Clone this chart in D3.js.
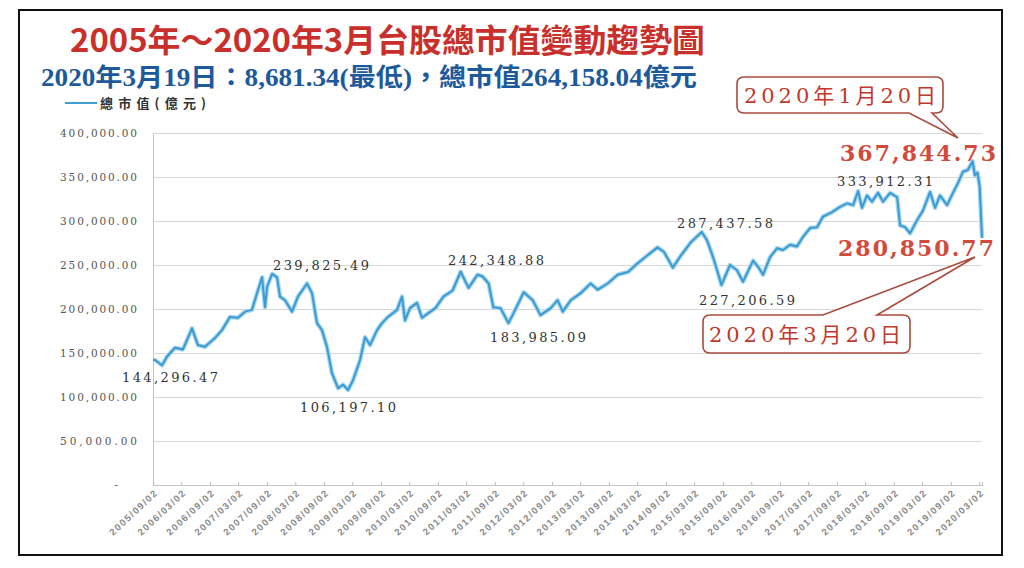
<!DOCTYPE html>
<html lang="zh-Hant">
<head>
<meta charset="UTF-8">
<title>台股總市值變動趨勢圖</title>
<script src="https://d3js.org/d3.v7.min.js"></script>
<style>
  body { margin: 0; background: #fff; }
  svg { display: block; }
</style>
</head>
<body>
<script>
// 總市值(億元)
const dates = [
  "2005-09-02","2005-09-15","2005-10-30","2005-12-01","2006-01-21","2006-03-13","2006-05-10","2006-06-17",
  "2006-08-01","2006-10-04","2006-11-18","2007-01-08","2007-03-01","2007-04-15","2007-05-29","2007-07-01",
  "2007-08-02","2007-08-21","2007-09-03","2007-10-05","2007-11-06","2007-11-25","2007-12-27","2008-02-10",
  "2008-03-19","2008-05-16","2008-06-17","2008-07-19","2008-08-20","2008-09-21","2008-10-23","2008-12-01",
  "2009-01-02","2009-02-03","2009-03-07","2009-04-21","2009-05-23","2009-06-24","2009-08-08","2009-09-09",
  "2009-10-17","2009-12-14","2010-01-15","2010-02-03","2010-03-07","2010-04-21","2010-05-23","2010-06-30",
  "2010-08-17","2010-10-07","2010-12-05","2011-01-26","2011-03-17","2011-05-14","2011-06-15","2011-07-24",
  "2011-08-23","2011-10-08","2011-11-28","2011-12-30","2012-03-05","2012-05-02","2012-06-20","2012-08-25",
  "2012-10-08","2012-11-10","2013-01-01","2013-03-05","2013-05-08","2013-06-22","2013-08-25","2013-10-28",
  "2014-01-02","2014-03-05","2014-05-08","2014-07-10","2014-08-20","2014-10-17","2014-12-08","2015-02-10",
  "2015-04-20","2015-05-24","2015-07-01","2015-08-10","2015-08-24","2015-10-18","2015-12-02","2016-01-09",
  "2016-03-14","2016-04-15","2016-05-17","2016-07-01","2016-08-14","2016-09-22","2016-11-06","2016-12-20",
  "2017-01-28","2017-03-14","2017-04-28","2017-06-05","2017-08-02","2017-09-22","2017-11-06","2017-12-15",
  "2018-01-16","2018-02-10","2018-03-14","2018-04-15","2018-05-24","2018-06-25","2018-08-09","2018-09-23",
  "2018-10-12","2018-11-13","2018-12-15","2019-01-29","2019-03-08","2019-04-22","2019-05-24","2019-06-25",
  "2019-08-09","2019-09-16","2019-10-18","2019-11-19","2019-12-20","2020-01-20","2020-02-03","2020-02-20",
  "2020-03-05","2020-03-20"
];
const values = [
  142000,142000,136000,146000,156000,154000,178000,159000,
  157000,167000,176000,191000,190000,197000,199000,218000,
  236000,202000,225000,239825,236000,214000,210000,197000,
  214000,229000,218000,184000,176000,157000,127000,110000,
  114000,108000,119000,142000,168000,159000,176000,184000,
  191000,199000,214000,187000,201000,207000,190000,195000,
  201000,214000,221000,242349,224000,239000,237000,229000,
  202000,201000,183985,195000,219000,210000,193000,201000,
  210000,197000,210000,218000,229000,222000,229000,239000,
  242000,252000,261000,270000,265000,247000,261000,276000,
  287438,278000,259000,236000,227207,250000,244000,231000,
  255000,248000,239000,259000,269000,267000,273000,271000,
  282000,292000,293000,305000,310000,316000,320000,318000,
  333912,315000,329000,322000,332000,322000,332000,327000,
  295000,293000,286000,301000,312000,333000,315000,329000,
  318000,332000,343000,356000,358000,367845,352000,355000,
  339000,280851
];

const yTicks = [0, 50000, 100000, 150000, 200000, 250000, 300000, 350000, 400000];
const xTickLabels = [
  "2005/09/02","2006/03/02","2006/09/02","2007/03/02","2007/09/02","2008/03/02","2008/09/02","2009/03/02",
  "2009/09/02","2010/03/02","2010/09/02","2011/03/02","2011/09/02","2012/03/02","2012/09/02","2013/03/02",
  "2013/09/02","2014/03/02","2014/09/02","2015/03/02","2015/09/02","2016/03/02","2016/09/02","2017/03/02",
  "2017/09/02","2018/03/02","2018/09/02","2019/03/02","2019/09/02","2020/03/02"
];
const pointLabels = ["144,296.47","239,825.49","106,197.10","242,348.88","183,985.09","287,437.58","227,206.59","333,912.31"];
const peakLabel = "367,844.73";
const lastLabel = "280,850.77";
const calloutTexts = ["2020年1月20日", "2020年3月20日"];

const parse = d3.timeParse("%Y-%m-%d");
const parseTick = d3.timeParse("%Y/%m/%d");
const data = dates.map((d, i) => ({ date: parse(d), value: values[i] }));

const W = 1024, H = 568;
const svg = d3.select("body").append("svg").attr("width", W).attr("height", H);

svg.append("rect").attr("x", 19).attr("y", 10).attr("width", 983).attr("height", 545)
  .attr("fill", "#fff").attr("stroke", "#111").attr("stroke-width", 2);

const x = d3.scaleTime().domain([data[0].date, data[data.length - 1].date]).range([153, 982]);
const y = d3.scaleLinear().domain([0, 400000]).range([485, 133]);

// titles
svg.append("text").attr("x", 70).attr("y", 52)
  .attr("textLength", 635).attr("lengthAdjust", "spacingAndGlyphs")
  .style("font-family", "'Noto Sans CJK TC', sans-serif").style("font-size", "32px").style("font-weight", 700)
  .attr("fill", "#c9302c")
  .text("2005年～2020年3月台股總市值變動趨勢圖");

svg.append("text").attr("x", 41).attr("y", 86)
  .attr("textLength", 656).attr("lengthAdjust", "spacingAndGlyphs")
  .style("font-family", "'Liberation Serif', 'Noto Sans CJK TC', serif").style("font-size", "25px").style("font-weight", 700)
  .attr("fill", "#1d5a9c")
  .text("2020年3月19日：8,681.34(最低)，總市值264,158.04億元");

// legend
svg.append("line").attr("x1", 65).attr("x2", 97).attr("y1", 103).attr("y2", 103)
  .attr("stroke", "#3d9fd3").attr("stroke-width", 2);
svg.append("text").attr("x", 100).attr("y", 108)
  .attr("textLength", 106).attr("lengthAdjust", "spacing")
  .style("font-family", "'Noto Sans CJK TC', sans-serif").style("font-size", "13px").style("font-weight", 700)
  .attr("fill", "#333").text("總市值(億元)");

// y axis + grid
const gy = svg.append("g").attr("transform", "translate(153,0)")
  .call(d3.axisLeft(y).tickValues(yTicks).tickSize(-829).tickPadding(16)
    .tickFormat(d => d === 0 ? "-" : d3.format(",.2f")(d)));
gy.select(".domain").attr("stroke", "#c4c4c4");
gy.selectAll(".tick line").attr("stroke", "#d6d6d6");
gy.selectAll(".tick text")
  .style("font-family", "'DejaVu Serif', serif").style("font-size", "10.5px")
  .attr("fill", "#555")
  .attr("x", d => d === 0 ? -35 : -16)
  .each(function (d) {
    if (d !== 0) d3.select(this).attr("textLength", 77).attr("lengthAdjust", "spacing");
  });

// x axis
const gx = svg.append("g").attr("transform", "translate(0,485)")
  .call(d3.axisBottom(x).tickValues(xTickLabels.map(parseTick)).tickSize(-3)
    .tickFormat(d3.timeFormat("%Y/%m/%d")));
gx.select(".domain").attr("stroke", "#c4c4c4");
gx.selectAll(".tick line").attr("stroke", "#bbb");
gx.selectAll(".tick text")
  .attr("transform", "translate(3,6) rotate(-43)")
  .attr("text-anchor", "end").attr("dy", "0.35em").attr("y", 0)
  .style("font-family", "'Liberation Sans', sans-serif").style("font-size", "9.5px").style("font-weight", 700)
  .style("letter-spacing", "1.5px").attr("fill", "#8a8a8a");

// line
const line = d3.line().x(d => x(d.date)).y(d => y(d.value));
svg.append("path").datum(data).attr("d", line)
  .attr("fill", "none").attr("stroke", "#a8d6ef").attr("stroke-width", 4.5).attr("stroke-linejoin", "round");
svg.append("path").datum(data).attr("d", line)
  .attr("fill", "none").attr("stroke", "#3a9bd2").attr("stroke-width", 2).attr("stroke-linejoin", "round");

// point value labels
const labelPos = [[170, 377], [321, 265], [348, 407], [496, 260], [538, 337], [725, 223], [747, 300], [885, 181]];
svg.selectAll(".plabel").data(pointLabels).join("text").attr("class", "plabel")
  .attr("x", (d, i) => labelPos[i][0] - 48).attr("y", (d, i) => labelPos[i][1] + 5)
  .attr("textLength", 96).attr("lengthAdjust", "spacing")
  .style("font-family", "'DejaVu Serif', serif").style("font-size", "13px")
  .attr("fill", "#333").text(d => d);

// red labels
[[peakLabel, 840, 161], [lastLabel, 838, 256]].forEach(([t, lx, ly]) => {
  svg.append("text").attr("x", lx).attr("y", ly)
    .attr("textLength", 156).attr("lengthAdjust", "spacing")
    .style("font-family", "'DejaVu Serif', serif").style("font-size", "22px").style("font-weight", 700)
    .attr("fill", "#d24a3c").text(t);
});

// callouts
function callout(bx, by, bw, bh, p1, p2, tx, ty, top) {
  const r = 7;
  let p = `M${bx + r},${by}`;
  if (top) p += `L${p1},${by}L${tx},${ty}L${p2},${by}`;
  p += `L${bx + bw - r},${by}Q${bx + bw},${by} ${bx + bw},${by + r}`;
  p += `L${bx + bw},${by + bh - r}Q${bx + bw},${by + bh} ${bx + bw - r},${by + bh}`;
  if (!top) p += `L${p2},${by + bh}L${tx},${ty}L${p1},${by + bh}`;
  p += `L${bx + r},${by + bh}Q${bx},${by + bh} ${bx},${by + bh - r}`;
  p += `L${bx},${by + r}Q${bx},${by} ${bx + r},${by}Z`;
  svg.append("path").attr("d", p).attr("fill", "#fff")
    .attr("stroke", "#a94b3e").attr("stroke-width", 1.6);
}
callout(737, 77, 206, 36, 909, 932, 958, 138, false);
callout(703, 315, 207, 38, 823, 877, 975, 257, true);

[[calloutTexts[0], 744, 103], [calloutTexts[1], 709, 342]].forEach(([t, lx, ly]) => {
  svg.append("text").attr("x", lx).attr("y", ly)
    .attr("textLength", 192).attr("lengthAdjust", "spacing")
    .style("font-family", "'DejaVu Serif', 'Noto Sans CJK TC', serif").style("font-size", "21px")
    .attr("fill", "#c0392b").text(t);
});
</script>
</body>
</html>
